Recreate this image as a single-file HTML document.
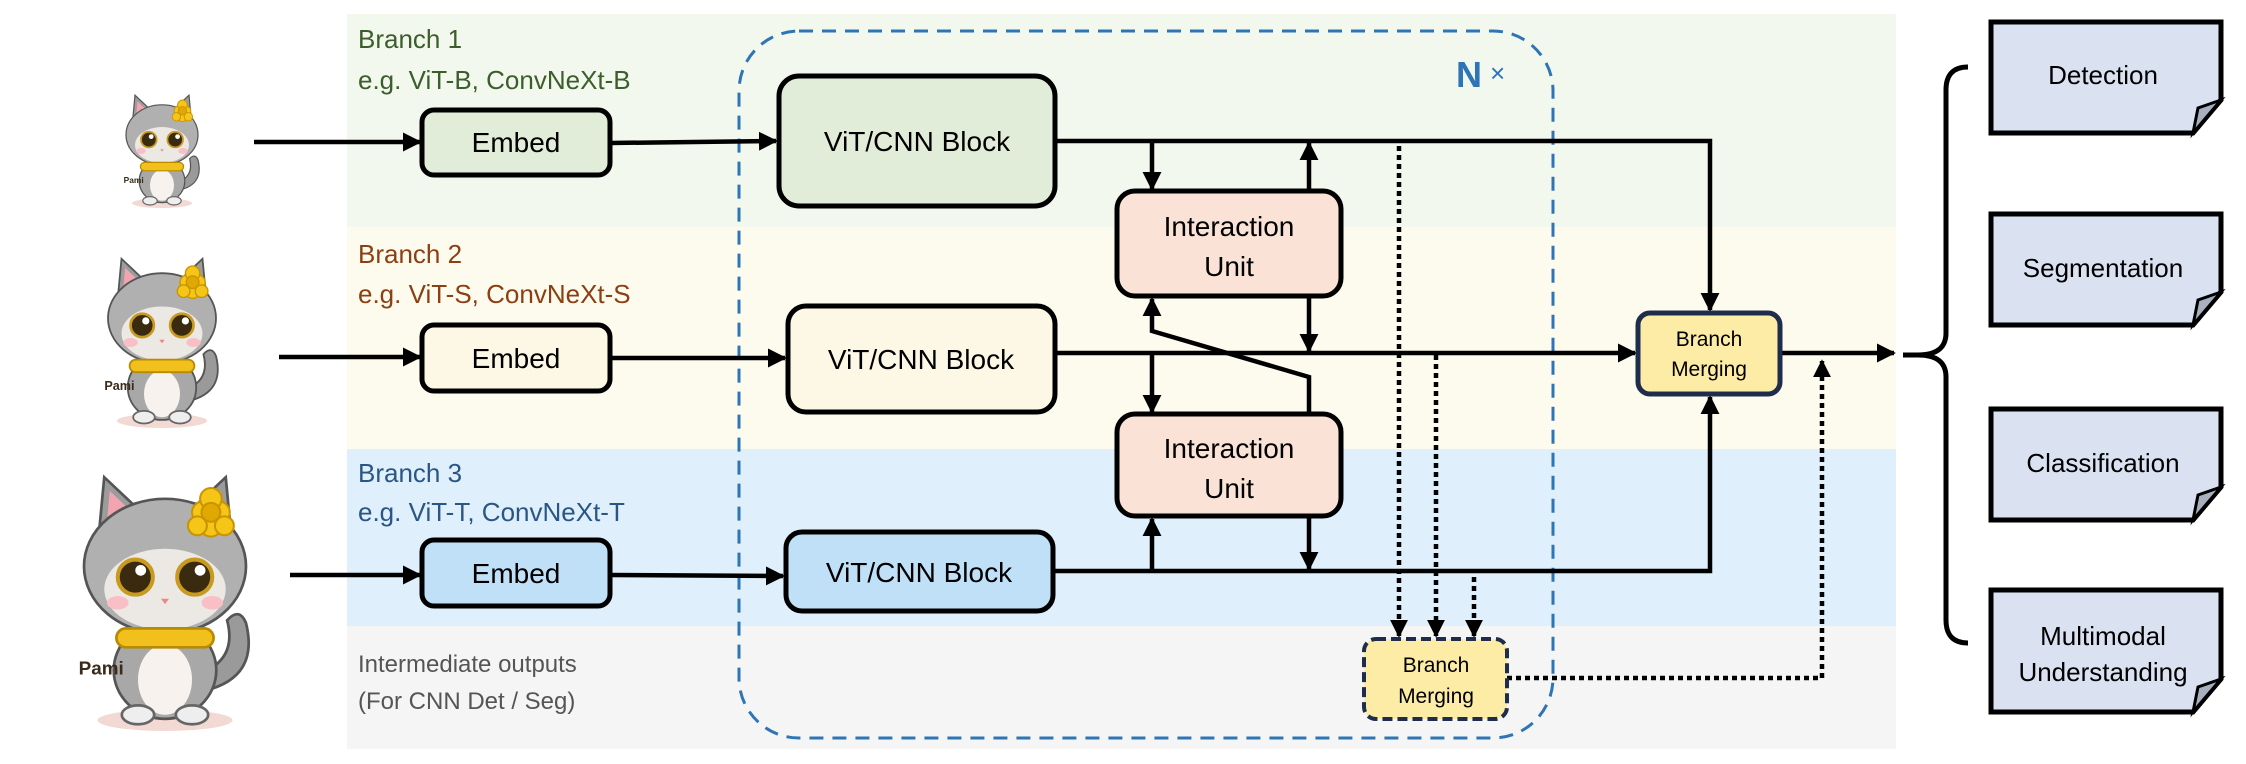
<!DOCTYPE html>
<html><head><meta charset="utf-8"><style>
html,body{margin:0;padding:0;background:#fff;}
svg{display:block;}
text{font-family:"Liberation Sans",sans-serif;}
</style></head><body>
<svg width="2246" height="764" viewBox="0 0 2246 764" xmlns="http://www.w3.org/2000/svg">
<defs>
<marker id="ah" viewBox="0 0 10 10" refX="9" refY="5" markerWidth="4.2" markerHeight="4.2" orient="auto-start-reverse" markerUnits="strokeWidth">
<path d="M0,0 L10,5 L0,10 z" fill="#000"/></marker>
<marker id="ahs" viewBox="0 0 10 10" refX="9" refY="5" markerWidth="4" markerHeight="4" orient="auto" markerUnits="strokeWidth">
<path d="M0,0 L10,5 L0,10 z" fill="#000"/></marker>
<g id="cat">
 <ellipse cx="0" cy="92" rx="50" ry="8" fill="#f3d9d3"/>
 <path d="M30,70 q40,-10 30,-50 q-5,-12 -14,-2 q8,30 -22,40z" fill="#9a9a9a" stroke="#555" stroke-width="2"/>
 <ellipse cx="0" cy="55" rx="38" ry="36" fill="#a8a8a8" stroke="#555" stroke-width="2"/>
 <ellipse cx="0" cy="62" rx="20" ry="26" fill="#f7f2ee"/>
 <ellipse cx="-20" cy="88" rx="12" ry="7" fill="#eee" stroke="#666" stroke-width="2"/>
 <ellipse cx="20" cy="88" rx="12" ry="7" fill="#eee" stroke="#666" stroke-width="2"/>
 <path d="M-50,-35 L-45,-88 L-10,-55z" fill="#9c9c9c" stroke="#555" stroke-width="2"/>
 <path d="M50,-35 L45,-88 L10,-55z" fill="#9c9c9c" stroke="#555" stroke-width="2"/>
 <path d="M-44,-42 L-41,-78 L-18,-56z" fill="#f2a5b0"/>
 <path d="M44,-42 L41,-78 L18,-56z" fill="#f2a5b0"/>
 <ellipse cx="0" cy="-22" rx="60" ry="50" fill="#b0b0b0" stroke="#555" stroke-width="2"/>
 <ellipse cx="0" cy="-5" rx="45" ry="30" fill="#ece8e4"/>
 <circle cx="-22" cy="-14" r="13" fill="#3a2a10" stroke="#c89a20" stroke-width="3"/>
 <circle cx="22" cy="-14" r="13" fill="#3a2a10" stroke="#c89a20" stroke-width="3"/>
 <circle cx="-18" cy="-19" r="4" fill="#fff"/><circle cx="26" cy="-19" r="4" fill="#fff"/>
 <ellipse cx="-35" cy="5" rx="8" ry="5" fill="#f8c0c6"/><ellipse cx="35" cy="5" rx="8" ry="5" fill="#f8c0c6"/>
 <path d="M-3,2 L3,2 L0,6z" fill="#e88" />
 <rect x="-36" y="24" width="72" height="14" rx="7" fill="#f2c01c" stroke="#b88a00" stroke-width="2"/>
 <g fill="#f5c518" stroke="#c99400" stroke-width="1.5">
 <circle cx="28" cy="-62" r="8"/><circle cx="40" cy="-62" r="8"/><circle cx="34" cy="-52" r="8"/><circle cx="34" cy="-72" r="8"/><circle cx="24" cy="-52" r="7"/><circle cx="44" cy="-52" r="7"/>
 <circle cx="34" cy="-62" r="7" fill="#e0a800"/></g>
 <text x="-64" y="58" font-size="14" font-weight="bold" fill="#3a2a1a">Pami</text>
</g>
</defs>

<!-- bands -->
<rect x="347" y="14" width="1549" height="213" fill="#f3f8ee"/>
<rect x="347" y="227" width="1549" height="222" fill="#fdfbee"/>
<rect x="347" y="449" width="1549" height="177" fill="#dfeffb"/>
<rect x="347" y="626" width="1549" height="123" fill="#f5f5f5"/>

<!-- cats -->
<use href="#cat" transform="translate(162,148) scale(0.6)"/>
<use href="#cat" transform="translate(162,338) scale(0.9)"/>
<use href="#cat" transform="translate(165,596) scale(1.35)"/>

<!-- branch labels -->
<g font-size="26">
<text x="358" y="48" fill="#3b5e2b">Branch 1</text>
<text x="358" y="89" fill="#3b5e2b">e.g. ViT-B, ConvNeXt-B</text>
<text x="358" y="263" fill="#8b3f12">Branch 2</text>
<text x="358" y="303" fill="#8b3f12">e.g. ViT-S, ConvNeXt-S</text>
<text x="358" y="482" fill="#2a5685">Branch 3</text>
<text x="358" y="521" fill="#2a5685">e.g. ViT-T, ConvNeXt-T</text>
</g>
<g font-size="24" fill="#555">
<text x="358" y="672">Intermediate outputs</text>
<text x="358" y="709">(For CNN Det / Seg)</text>
</g>

<!-- dashed N box -->
<rect x="739" y="31" width="814" height="707" rx="60" fill="none" stroke="#2e75b6" stroke-width="3" stroke-dasharray="14,9"/>
<text x="1456" y="87" font-size="36" font-weight="bold" fill="#2e75b6">N</text>
<text x="1490" y="82" font-size="26" fill="#2e75b6">×</text>

<g stroke="#000" stroke-width="4.5" fill="none">
<!-- inputs -->
<line x1="254" y1="142" x2="420" y2="142" marker-end="url(#ah)"/>
<line x1="279" y1="357" x2="420" y2="357" marker-end="url(#ah)"/>
<line x1="290" y1="575" x2="420" y2="575" marker-end="url(#ah)"/>
<line x1="610" y1="143" x2="776" y2="141" marker-end="url(#ah)"/>
<line x1="610" y1="358" x2="785" y2="358" marker-end="url(#ah)"/>
<line x1="610" y1="575" x2="783" y2="576" marker-end="url(#ah)"/>
<!-- main lines -->
<polyline points="1055,141 1710,141 1710,310" marker-end="url(#ah)"/>
<line x1="1055" y1="353" x2="1635" y2="353" marker-end="url(#ah)"/>
<polyline points="1053,571 1710,571 1710,397" marker-end="url(#ah)"/>
<line x1="1780" y1="353" x2="1894" y2="353" marker-end="url(#ah)"/>
<!-- interaction arrows -->
<line x1="1152" y1="141" x2="1152" y2="189" marker-end="url(#ah)"/>
<line x1="1309" y1="191" x2="1309" y2="143" marker-end="url(#ah)"/>
<polyline points="1309,414 1309,377 1152,331 1152,299" marker-end="url(#ah)"/>
<line x1="1309" y1="296" x2="1309" y2="351" marker-end="url(#ah)"/>
<line x1="1152" y1="353" x2="1152" y2="412" marker-end="url(#ah)"/>
<line x1="1152" y1="571" x2="1152" y2="519" marker-end="url(#ah)"/>
<line x1="1309" y1="516" x2="1309" y2="569" marker-end="url(#ah)"/>
</g>
<!-- dotted -->
<g stroke="#000" stroke-width="4.5" fill="none" stroke-dasharray="5,4">
<line x1="1399" y1="146" x2="1399" y2="636" marker-end="url(#ahs)"/>
<line x1="1436" y1="355" x2="1436" y2="636" marker-end="url(#ahs)"/>
<line x1="1474" y1="577" x2="1474" y2="636" marker-end="url(#ahs)"/>
<polyline points="1507,678 1822,678 1822,361" marker-end="url(#ahs)"/>
</g>

<!-- boxes -->
<g stroke="#000" stroke-width="5">
<rect x="422" y="110" width="188" height="65" rx="12" fill="#e1edd8"/>
<rect x="422" y="325" width="188" height="66" rx="12" fill="#fdf7e6"/>
<rect x="422" y="540" width="188" height="66" rx="12" fill="#bfe0f7"/>
<rect x="779" y="76" width="276" height="130" rx="20" fill="#e1edd8"/>
<rect x="788" y="306" width="267" height="106" rx="18" fill="#fdf7e6"/>
<rect x="786" y="532" width="267" height="79" rx="16" fill="#bfe0f7"/>
<rect x="1117" y="191" width="224" height="105" rx="18" fill="#fae3d6"/>
<rect x="1117" y="414" width="224" height="102" rx="18" fill="#fae3d6"/>
</g>
<rect x="1638" y="313" width="142" height="81" rx="12" fill="#fdeca6" stroke="#1f2d4d" stroke-width="5"/>
<rect x="1364" y="639" width="143" height="80" rx="12" fill="#fdeca6" stroke="#1f2d4d" stroke-width="4" stroke-dasharray="10,5"/>

<g font-size="28" text-anchor="middle" fill="#000">
<text x="516" y="152">Embed</text>
<text x="516" y="368">Embed</text>
<text x="516" y="583">Embed</text>
<text x="917" y="151">ViT/CNN Block</text>
<text x="921" y="369">ViT/CNN Block</text>
<text x="919" y="582">ViT/CNN Block</text>
<text x="1229" y="236">Interaction</text>
<text x="1229" y="276">Unit</text>
<text x="1229" y="458">Interaction</text>
<text x="1229" y="498">Unit</text>
</g>
<g font-size="21" text-anchor="middle" fill="#000">
<text x="1709" y="346">Branch</text>
<text x="1709" y="376">Merging</text>
<text x="1436" y="672">Branch</text>
<text x="1436" y="703">Merging</text>
</g>

<!-- brace -->
<path d="M1968,67 Q1946,67 1946,90 L1946,333 Q1946,355 1918,355 L1903,355 M1918,355 Q1946,355 1946,377 L1946,620 Q1946,643 1968,643" fill="none" stroke="#000" stroke-width="5"/>

<!-- task boxes -->
<g stroke="#000" stroke-width="5" fill="#dae2f2">
<path d="M1991,22 L2221,22 L2221,100 L2193,133 L1991,133 Z"/>
<path d="M1991,214 L2221,214 L2221,292 L2193,325 L1991,325 Z"/>
<path d="M1991,409 L2221,409 L2221,487 L2193,520 L1991,520 Z"/>
<path d="M1991,590 L2221,590 L2221,679 L2193,712 L1991,712 Z"/>
</g>
<g stroke="#000" stroke-width="3" fill="#a8b0c0">
<path d="M2221,100 L2198,108 L2193,133 Z"/>
<path d="M2221,292 L2198,300 L2193,325 Z"/>
<path d="M2221,487 L2198,495 L2193,520 Z"/>
<path d="M2221,679 L2198,687 L2193,712 Z"/>
</g>
<g font-size="26" text-anchor="middle" fill="#000">
<text x="2103" y="84">Detection</text>
<text x="2103" y="277">Segmentation</text>
<text x="2103" y="472">Classification</text>
<text x="2103" y="645">Multimodal</text>
<text x="2103" y="681">Understanding</text>
</g>
</svg>
</body></html>
